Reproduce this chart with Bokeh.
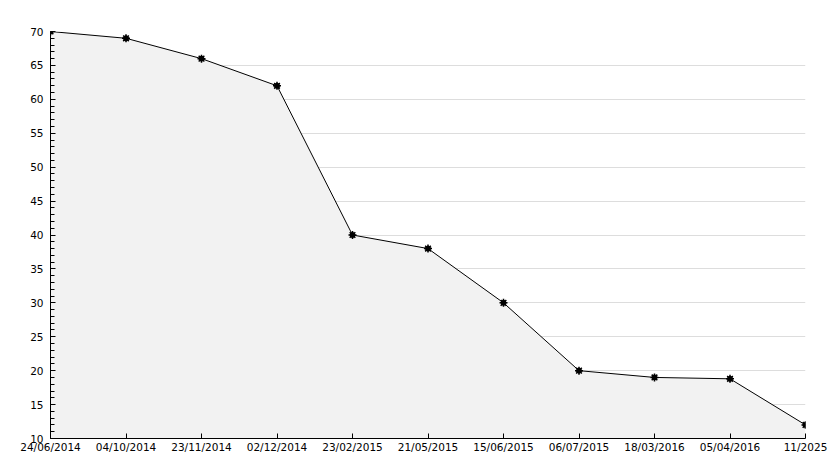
from bokeh.plotting import figure
from bokeh.models import Range1d, SingleIntervalTicker, FixedTicker
from bokeh.embed import file_html
from bokeh.resources import INLINE

dates = ["24/06/2014", "04/10/2014", "23/11/2014", "02/12/2014", "23/02/2015",
         "21/05/2015", "15/06/2015", "06/07/2015", "18/03/2016", "05/04/2016", "11/2025"]
values = [70, 69, 66, 62, 40, 38, 30, 20, 19, 18.8, 12]
y_min, y_max = 10, 70

xs = list(range(len(dates)))

p = figure(width=834, height=468, output_backend="svg", toolbar_location=None,
           x_range=Range1d(0, len(dates) - 1), y_range=Range1d(y_min, y_max),
           min_border_left=50, min_border_right=29, min_border_top=31, min_border_bottom=30)
p.outline_line_color = None
p.background_fill_color = "white"

p.varea(x=xs, y1=[y_min] * len(xs), y2=values, fill_color="#f2f2f2")
p.line(xs, values, line_color="black", line_width=1)
p.scatter(xs, values, size=5, color="black", marker="circle")
p.scatter(xs, values, size=8, line_color="black", marker="asterisk", line_width=1.5)

p.xgrid.grid_line_color = None
p.ygrid.grid_line_color = "#dddddd"
p.ygrid.grid_line_width = 1

p.yaxis.ticker = SingleIntervalTicker(interval=5, num_minor_ticks=5)
p.xaxis.ticker = FixedTicker(ticks=xs)
p.xaxis.major_label_overrides = {i: d for i, d in enumerate(dates)}

for ax in (p.xaxis[0], p.yaxis[0]):
    ax.axis_line_color = "black"
    ax.axis_line_width = 1
    ax.major_tick_out = 0
    ax.minor_tick_out = 0
    ax.major_tick_line_color = "black"
    ax.minor_tick_line_color = "black"
    ax.major_label_text_font = "DejaVu Sans"
    ax.major_label_text_font_size = "10.5px"
    ax.major_label_text_color = "black"

p.yaxis.major_label_standoff = 7
p.xaxis.major_label_standoff = 2
p.yaxis.major_tick_in = 5
p.yaxis.minor_tick_in = 4
p.xaxis.major_tick_in = 5
p.xaxis.minor_tick_line_color = None

open("out.html", "w").write(file_html(p, INLINE))
